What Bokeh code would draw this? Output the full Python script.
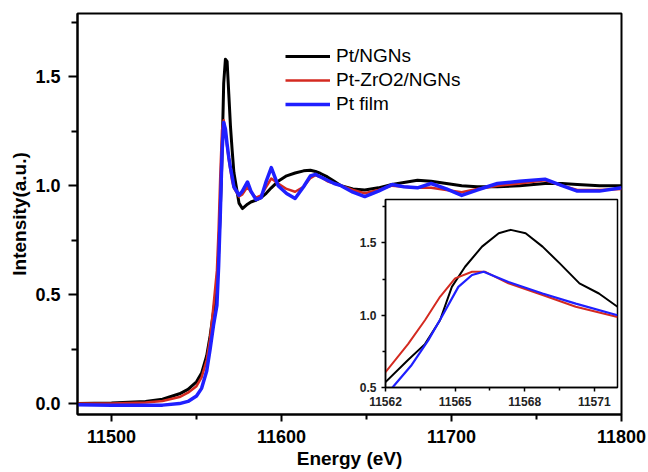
from bokeh.plotting import figure
from bokeh.models import FixedTicker, Legend, LegendItem, NumeralTickFormatter, Range1d
from bokeh.layouts import column
from bokeh.embed import file_html
from bokeh.resources import INLINE

# ---------------- data ----------------
energy = [11480, 11500, 11520, 11530, 11540, 11545, 11550, 11553, 11556, 11558,
          11560, 11562, 11563, 11564, 11565, 11566, 11567, 11568, 11569, 11570,
          11571, 11572, 11575, 11577, 11580, 11582, 11585, 11588, 11591, 11594,
          11598, 11603, 11608, 11613, 11617, 11620, 11623, 11627, 11631, 11635,
          11642, 11649, 11657, 11665, 11672, 11680, 11688, 11697, 11706, 11715,
          11727, 11740, 11755, 11765, 11774, 11787, 11800]

pt_ngns = [0.0, 0.003, 0.01, 0.02, 0.045, 0.065, 0.10, 0.14, 0.22, 0.31,
           0.42, 0.54, 0.69, 0.89, 1.13, 1.47, 1.58, 1.57, 1.42, 1.27,
           1.16, 1.06, 0.92, 0.895, 0.915, 0.925, 0.933, 0.945, 0.965, 0.99,
           1.02, 1.045, 1.058, 1.068, 1.071, 1.065, 1.056, 1.04, 1.02, 1.0,
           0.985, 0.98, 0.99, 1.005, 1.015, 1.025, 1.02, 1.01, 1.0, 0.995,
           0.995, 1.0, 1.01, 1.01, 1.005, 1.0, 1.0]

pt_zro2_ngns = [0.0, 0.0, 0.005, 0.012, 0.03, 0.05, 0.08, 0.12, 0.20, 0.30,
                0.45, 0.61, 0.80, 1.05, 1.255, 1.30, 1.25, 1.18, 1.12, 1.07,
                1.02, 0.99, 0.95, 0.96, 0.995, 0.97, 0.945, 0.955, 0.995, 1.033,
                1.01, 0.985, 0.972, 0.995, 1.035, 1.048, 1.04, 1.02, 1.01, 1.0,
                0.98, 0.965, 0.98, 1.0, 0.995, 0.99, 0.99, 0.98, 0.97, 0.985,
                1.0, 1.01, 1.025, 1.0, 0.98, 0.98, 0.985]

pt_film = [-0.005, -0.007, -0.008, -0.007, 0.0, 0.01, 0.035, 0.07, 0.15, 0.25,
           0.36, 0.45, 0.63, 0.87, 1.15, 1.29, 1.26, 1.19, 1.13, 1.08,
           1.04, 0.995, 0.956, 0.975, 1.017, 0.975, 0.936, 0.945, 1.02, 1.083,
           1.0, 0.964, 0.941, 0.995, 1.045, 1.052, 1.04, 1.025, 1.01, 1.0,
           0.97, 0.95, 0.975, 1.005, 0.995, 0.99, 1.01, 0.985, 0.955, 0.98,
           1.01, 1.02, 1.03, 1.0, 0.975, 0.975, 0.99]

# inset (zoom on the white line)
inset_e_ngns = [11562.0, 11562.97, 11563.7, 11564.35, 11564.86, 11565.43, 11566.16,
                11566.88, 11567.4, 11568.04, 11568.77, 11569.5, 11570.36, 11571.2, 11572.0]
inset_i_ngns = [0.537, 0.69, 0.80, 0.965, 1.196, 1.335, 1.474,
                1.567, 1.59, 1.567, 1.474, 1.36, 1.22, 1.15, 1.058]

inset_e_zro2 = [11562.0, 11562.97, 11563.7, 11564.35, 11565.0, 11565.73, 11566.3,
                11567.3, 11568.77, 11570.2, 11572.0]
inset_i_zro2 = [0.606, 0.80, 0.965, 1.127, 1.255, 1.30, 1.30,
                1.22, 1.14, 1.058, 0.988]

inset_e_film = [11562.3, 11563.1, 11563.84, 11564.42, 11565.14, 11565.73, 11566.23,
                11567.3, 11568.77, 11570.2, 11572.0]
inset_i_film = [0.50, 0.65, 0.826, 0.988, 1.196, 1.278, 1.30,
                1.23, 1.15, 1.08, 1.0]

series_labels = ["Pt/NGNs", "Pt-ZrO2/NGNs", "Pt film"]
x_ticks = [11500, 11600, 11700, 11800]
x_minor = [11550, 11650, 11750]
y_ticks = [0.0, 0.5, 1.0, 1.5]
y_minor = [0.25, 0.75, 1.25, 1.75]
inset_x_ticks = [11562, 11565, 11568, 11571]
inset_x_minor = [11563.5, 11566.5, 11569.5]
inset_y_ticks = [0.5, 1.0, 1.5]
inset_y_minor = [0.75, 1.25, 1.75]

BLACK = "#000000"
RED = "#d42a20"
BLUE = "#1f1fff"
FONT = "Liberation Sans"

# ---------------- main figure ----------------
p = figure(width=648, height=472, output_backend="svg", toolbar_location=None,
           x_range=Range1d(11480, 11800), y_range=Range1d(-0.05, 1.79),
           min_border_left=77, min_border_right=27, min_border_top=13, min_border_bottom=58)
p.grid.visible = False
p.outline_line_color = "black"
p.outline_line_width = 2
p.background_fill_color = "white"
p.border_fill_color = "white"

r1 = p.line(energy, pt_ngns, line_color=BLACK, line_width=3, line_join="round")
r2 = p.line(energy, pt_zro2_ngns, line_color=RED, line_width=2.5, line_join="round")
r3 = p.line(energy, pt_film, line_color=BLUE, line_width=3.5, line_join="round")

p.xaxis.ticker = FixedTicker(ticks=x_ticks, minor_ticks=x_minor)
p.yaxis.ticker = FixedTicker(ticks=y_ticks, minor_ticks=y_minor)
p.xaxis.formatter = NumeralTickFormatter(format="0")
p.yaxis.formatter = NumeralTickFormatter(format="0.0")
for ax in (p.xaxis[0], p.yaxis[0]):
    ax.axis_line_width = 2
    ax.major_tick_line_width = 2
    ax.minor_tick_line_width = 2
    ax.major_tick_in = 0
    ax.minor_tick_in = 0
    ax.major_label_text_font = FONT
    ax.major_label_text_font_style = "bold"
    ax.major_label_text_font_size = "18px"
    ax.major_label_text_color = "black"
    ax.axis_label_text_font = FONT
    ax.axis_label_text_font_style = "bold"
    ax.axis_label_text_font_size = "19px"
    ax.axis_label_text_color = "black"
p.xaxis.major_tick_out = 7
p.xaxis.minor_tick_out = 5
p.yaxis.major_tick_out = 9
p.yaxis.minor_tick_out = 6
p.xaxis.major_label_standoff = 8
p.yaxis.major_label_standoff = 8
p.xaxis.axis_label = "Energy (eV)"
p.yaxis.axis_label = "Intensity(a.u.)"
p.xaxis.axis_label_standoff = 2
p.yaxis.axis_label_standoff = 2

legend = Legend(items=[LegendItem(label=series_labels[0], renderers=[r1]),
                       LegendItem(label=series_labels[1], renderers=[r2]),
                       LegendItem(label=series_labels[2], renderers=[r3])],
                location=(208, 299))
legend.background_fill_alpha = 0
legend.border_line_alpha = 0
legend.padding = 0
legend.margin = 0
legend.spacing = 2
legend.glyph_width = 45
legend.glyph_height = 20
legend.label_height = 20
legend.label_standoff = 6
legend.label_text_font = FONT
legend.label_text_font_size = "19px"
legend.label_text_color = "black"
p.add_layout(legend)

# ---------------- inset ----------------
# borders match the main plot's (the column aligns them)
inset = figure(width=336, height=223, output_backend="svg", toolbar_location=None,
               x_range=Range1d(11562, 11572), y_range=Range1d(0.5, 1.8),
               min_border_left=77, min_border_right=27, min_border_top=5, min_border_bottom=30)
inset.grid.visible = False
inset.outline_line_color = "black"
inset.outline_line_width = 1.5
inset.background_fill_color = "white"
inset.border_fill_color = None

inset.line(inset_e_ngns, inset_i_ngns, line_color=BLACK, line_width=2, line_join="round")
inset.line(inset_e_zro2, inset_i_zro2, line_color=RED, line_width=2, line_join="round")
inset.line(inset_e_film, inset_i_film, line_color=BLUE, line_width=2.2, line_join="round")

inset.xaxis.ticker = FixedTicker(ticks=inset_x_ticks, minor_ticks=inset_x_minor)
inset.yaxis.ticker = FixedTicker(ticks=inset_y_ticks, minor_ticks=inset_y_minor)
inset.xaxis.formatter = NumeralTickFormatter(format="0")
inset.yaxis.formatter = NumeralTickFormatter(format="0.0")
for ax in (inset.xaxis[0], inset.yaxis[0]):
    ax.axis_line_width = 1.5
    ax.major_tick_line_width = 1.5
    ax.minor_tick_line_width = 1.5
    ax.major_tick_in = 0
    ax.minor_tick_in = 0
    ax.major_tick_out = 4
    ax.minor_tick_out = 3
    ax.major_label_standoff = 5
    ax.major_label_text_font = FONT
    ax.major_label_text_font_style = "bold"
    ax.major_label_text_font_size = "12px"
    ax.major_label_text_color = "#222222"
inset.styles = {"position": "absolute", "left": "308px", "top": "194px"}

layout = column(p, inset)
open("out.html", "w").write(file_html(layout, INLINE))
